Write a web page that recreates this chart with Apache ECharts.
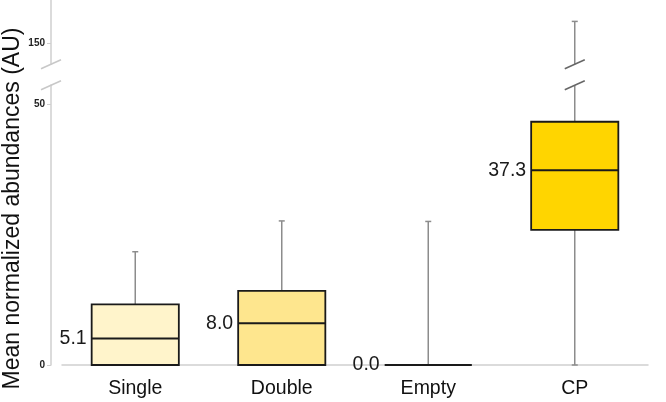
<!DOCTYPE html>
<html><head><meta charset="utf-8">
<script src="https://cdn.jsdelivr.net/npm/echarts@6/dist/echarts.min.js"></script>
<style>html,body{margin:0;padding:0;background:#fff}#c{width:666px;height:402px}</style>
</head><body><div id="c"></div>
<script>
// ---- data ----
const categories = ['Single', 'Double', 'Empty', 'CP'];
const whiskerLow = [0, 0, 0, 0];
const q1 = [0, 0, 0, 25.9];
const median = [5.1, 8.0, 0.0, 37.3];
const q3 = [11.6, 14.2, 0, 46.6];
const whiskerHigh = [21.7, 27.6, 27.5, 154.2];
const medianLabels = ['5.1', '8.0', '0.0', '37.3'];
const yTicks = [0, 50, 150];
const breakStart = 53.6;
const breakEnd = 146;
const yMax = 158.3;

// ---- styles ----
const boxFill = ['#FFF4CB', '#FEE68E', 'none', '#FFD500'];
const FONT = '"Liberation Sans", Arial, sans-serif';
const Y_OFFSET = 11;

const seriesData = categories.map((c, i) => [i, whiskerLow[i], q1[i], median[i], q3[i], whiskerHigh[i]]);

function seg(x1, y1, x2, y2, stroke, lw) {
  return { type: 'line', shape: { x1, y1, x2, y2 }, style: { stroke, lineWidth: lw } };
}

function renderItem(params, api) {
  const i = api.value(0);
  const lo = api.value(1), a = api.value(2), m = api.value(3), b = api.value(4), hi = api.value(5);
  const cx = api.coord([i, 0])[0];
  const bw = api.size([1, 0])[0] * 0.595;
  const y = v => api.coord([i, v])[1];
  const wc = '#8c8c8c', sc = '#666';
  const children = [];
  if (params.dataIndex === 0) {
    const ax = params.coordSys.x - Y_OFFSET;
    children.push(seg(ax - 10, y(breakEnd) + 4.5, ax + 10, y(breakEnd) - 4.5, '#c8c8c8', 1.5));
    children.push(seg(ax - 10, y(breakStart) + 4.5, ax + 10, y(breakStart) - 4.5, '#c8c8c8', 1.5));
  }
  if (hi > breakEnd && b < breakStart) {
    children.push(seg(cx, y(b), cx, y(breakStart), wc, 1.5));
    children.push(seg(cx, y(breakEnd), cx, y(hi), wc, 1.5));
    children.push(seg(cx - 10, y(breakEnd) + 4.5, cx + 10, y(breakEnd) - 4.5, sc, 1.5));
    children.push(seg(cx - 10, y(breakStart) + 4.5, cx + 10, y(breakStart) - 4.5, sc, 1.5));
  } else {
    children.push(seg(cx, y(b), cx, y(hi), wc, 1.5));
  }
  children.push(seg(cx - 3, y(hi), cx + 3, y(hi), wc, 1.5));
  if (lo < a) {
    children.push(seg(cx, y(a), cx, y(lo), wc, 1.5));
    children.push(seg(cx - 3, y(lo), cx + 3, y(lo), wc, 1.5));
  }
  if (b > a) {
    children.push({
      type: 'rect',
      shape: { x: cx - bw / 2, y: y(b), width: bw, height: y(a) - y(b) },
      style: { fill: boxFill[i], stroke: '#1a1a1a', lineWidth: 1.8 }
    });
  }
  children.push(seg(cx - bw / 2, y(m), cx + bw / 2, y(m), '#1a1a1a', 2));
  children.push({
    type: 'text',
    style: {
      text: medianLabels[i], x: cx - bw / 2 - 5, y: y(m),
      align: 'right', verticalAlign: 'middle',
      font: '19.5px ' + FONT, fill: '#1a1a1a'
    }
  });
  return { type: 'group', children };
}

const chart = echarts.init(document.getElementById('c'), null, { renderer: 'canvas' });
chart.setOption({
  animation: false,
  backgroundColor: '#fff',
  textStyle: { fontFamily: FONT },
  grid: { left: 62, right: 18, top: 0, bottom: 37, outerBoundsMode: 'none', containLabel: false },
  xAxis: {
    type: 'category',
    data: categories,
    offset: 7,
    axisLine: { lineStyle: { color: '#cfcfcf', width: 1.5 } },
    axisTick: { show: false },
    axisLabel: { fontSize: 19.5, color: '#111', margin: 7, fontFamily: FONT },
    splitLine: { show: false }
  },
  yAxis: {
    type: 'value',
    min: 0,
    max: yMax,
    offset: Y_OFFSET,
    breaks: [{ start: breakStart, end: breakEnd, gap: '5.75%' }],
    breakArea: { show: false },
    name: 'Mean normalized abundances (AU)',
    nameLocation: 'middle',
    nameRotate: 90,
    nameGap: 27,
    nameMoveOverlap: false,
    nameTextStyle: { fontSize: 23, color: '#111', fontFamily: FONT, padding: [0, 52, 0, 0] },
    axisLine: { show: true, lineStyle: { color: '#cfcfcf', width: 1.5 } },
    axisTick: { show: true, length: 4, customValues: yTicks, lineStyle: { color: '#cfcfcf' } },
    axisLabel: {
      fontSize: 10, fontWeight: 'bold', color: '#222', margin: 6, fontFamily: FONT,
      customValues: yTicks
    },
    splitLine: { show: false }
  },
  series: [{
    type: 'custom',
    renderItem,
    encode: { x: 0, y: [1, 2, 3, 4, 5] },
    data: seriesData,
    clip: false
  }]
});
</script>
</body></html>
